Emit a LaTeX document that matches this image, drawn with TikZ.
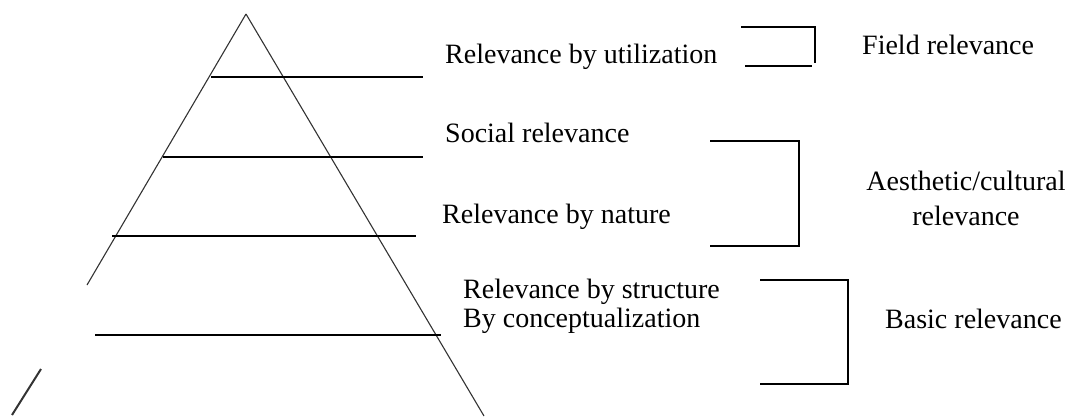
\documentclass[tikz,border=0pt]{standalone}
\usepackage{fontspec}
\setmainfont{Liberation Serif}
\usetikzlibrary{positioning}

\begin{document}
\begin{tikzpicture}[x=1pt,y=-1pt,
      lbl/.style={anchor=base west,inner sep=0pt,font=\fontsize{28}{29}\selectfont},
      grp/.style={anchor=base,inner sep=0pt,align=center,font=\fontsize{28}{35}\selectfont},
      side/.style={line width=1.1pt,color=black!80},
      level/.style={line width=1.4pt},
      brk/.style={line width=1.4pt}
    ]
      \useasboundingbox (0,0) rectangle (1078,416);
      % pyramid
      \coordinate (apex) at (246,14);
      \coordinate (lbreak) at (87,285);
      \coordinate (lfootA) at (41,369);
      \coordinate (lfootB) at (12,415);
      \coordinate (rfoot) at (484,416);
      \draw[side] (apex) -- (lbreak);
      \draw[side,line width=2pt] (lfootA) -- (lfootB);
      \draw[side] (apex) -- (rfoot);
      \draw[level] (211,77) -- (423,77);
      \draw[level] (163,157) -- (423,157);
      \draw[level] (112,236) -- (416,236);
      \draw[level] (95,335) -- (441,335);
      % labels
      \node[lbl] (util) at (445,63) {Relevance by utilization};
      \node[lbl] (social) at (445,142) {Social relevance};
      \node[lbl] (nature) at (442,223) {Relevance by nature};
      \node[lbl] (struct) at (463,298) {Relevance by structure};
      \node[lbl] (concept) at (463,327) {By conceptualization};
      \node[lbl] (field) at (862,54) {Field relevance};
      \node[grp] (aesth) at (966,225) {Aesthetic/cultural\\relevance};
      \node[lbl] (basic) at (885,328) {Basic relevance};
      % brackets
      \draw[brk] (741,27) -- (815,27) -- (815,63);
      \draw[brk] (745,66) -- (812,66);
      \draw[brk] (710,141) -- (799,141) -- (799,246) -- (710,246);
      \draw[brk] (760,280) -- (848,280) -- (848,384) -- (760,384);
    \end{tikzpicture}
\end{document}
